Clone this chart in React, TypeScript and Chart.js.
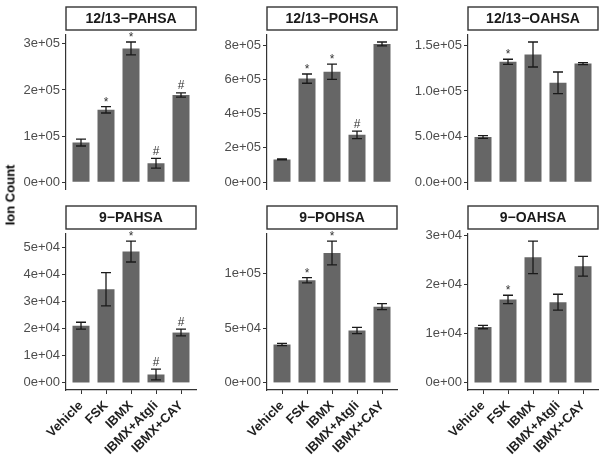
import React, { useEffect, useRef } from "react";
import { Chart, registerables } from "chart.js";

Chart.register(...registerables);

const FONT = "'Liberation Sans', Arial, Helvetica, sans-serif";

const categories = ["Vehicle", "FSK", "IBMX", "IBMX+Atgli", "IBMX+CAY"];
const panelTitles = ["12/13\u2212PAHSA", "12/13\u2212POHSA", "12/13\u2212OAHSA", "9\u2212PAHSA", "9\u2212POHSA", "9\u2212OAHSA"];

const pahsa1213Mean = [86000, 157000, 290000, 41000, 189000];
const pahsa1213Err = [7500, 7000, 14000, 10500, 4500];
const pohsa1213Mean = [133000, 604000, 644000, 276000, 806000];
const pohsa1213Err = [3000, 27000, 44000, 22000, 11500];
const oahsa1213Mean = [49500, 132000, 140000, 109000, 130000];
const oahsa1213Err = [1500, 2800, 13700, 11800, 1000];
const pahsa9Mean = [21100, 34500, 48400, 3100, 18550];
const pahsa9Err = [1250, 6150, 3850, 2000, 1250];
const pohsa9Mean = [35000, 93600, 118500, 47800, 69500];
const pohsa9Err = [1000, 2400, 10800, 2900, 2750];
const oahsa9Mean = [11350, 16950, 25500, 16400, 23700];
const oahsa9Err = [350, 850, 3300, 1600, 2000];

const pahsa1213Marks = ["", "*", "*", "#", "#"];
const pohsa1213Marks = ["", "*", "*", "#", ""];
const oahsa1213Marks = ["", "*", "", "", ""];
const pahsa9Marks = ["", "", "*", "#", "#"];
const pohsa9Marks = ["", "*", "*", "", ""];
const oahsa9Marks = ["", "*", "", "", ""];

const yTickSteps = [100000, 200000, 50000, 10000, 50000, 10000];

const means = [pahsa1213Mean, pohsa1213Mean, oahsa1213Mean, pahsa9Mean, pohsa9Mean, oahsa9Mean];
const errs = [pahsa1213Err, pohsa1213Err, oahsa1213Err, pahsa9Err, pohsa9Err, oahsa9Err];
const marks = [pahsa1213Marks, pohsa1213Marks, oahsa1213Marks, pahsa9Marks, pohsa9Marks, oahsa9Marks];

function fmtSci(value: number, ticks: { value: number }[]) {
  let d = 0;
  for (; d < 4; d++) {
    const ok = ticks.every((t) => Math.abs(Number(t.value.toExponential(d)) - t.value) < 1e-9 * Math.max(1, Math.abs(t.value)));
    if (ok) break;
  }
  return value.toExponential(d).replace(/e([+-])(\d)$/, "e$10$2");
}

const Y_AXIS_W = 60;
const PLOT_W = 130;
const CANVAS_W = Y_AXIS_W + PLOT_W + 2;
const colLefts = [6, 207, 408];

function Panel({ idx }: { idx: number }) {
  const ref = useRef<HTMLCanvasElement | null>(null);
  const bottomRow = idx >= 3;
  const col = idx % 3;
  const top = bottomRow ? 199 : 0;
  const height = bottomRow ? 261 : 199;

  useEffect(() => {
    const mean = means[idx];
    const err = errs[idx];
    const mk = marks[idx];
    const title = panelTitles[idx];
    const step = yTickSteps[idx];
    const hi = Math.max(...mean.map((m, i) => m + err[i]));
    const yMax = 1.05 * hi;

    const errorPlugin = {
      id: "errbars" + idx,
      afterDatasetsDraw(chart: any) {
        const { ctx } = chart;
        const xs = chart.scales.x;
        const ys = chart.scales.y;
        ctx.save();
        ctx.strokeStyle = "#1a1a1a";
        ctx.lineWidth = 1.3;
        mean.forEach((m, i) => {
          const xc = xs.getPixelForValue(i);
          const xl = xs.getPixelForValue(i - 0.2);
          const xr = xs.getPixelForValue(i + 0.2);
          const yt = ys.getPixelForValue(m + err[i]);
          const yb = ys.getPixelForValue(m - err[i]);
          ctx.beginPath();
          ctx.moveTo(xc, yt);
          ctx.lineTo(xc, yb);
          ctx.moveTo(xl, yt);
          ctx.lineTo(xr, yt);
          ctx.moveTo(xl, yb);
          ctx.lineTo(xr, yb);
          ctx.stroke();
          if (mk[i]) {
            ctx.fillStyle = "#333333";
            ctx.font = `12px ${FONT}`;
            ctx.textAlign = "center";
            ctx.textBaseline = "alphabetic";
            ctx.fillText(mk[i], xc, yt - (mk[i] === "*" ? 1 : 3.5));
          }
        });
        ctx.restore();
      },
    };

    const stripPlugin = {
      id: "strip" + idx,
      afterDraw(chart: any) {
        const { ctx, chartArea } = chart;
        const x0 = chartArea.left;
        const w = chartArea.right - chartArea.left;
        const y0 = chartArea.top - 28;
        const h = 23;
        ctx.save();
        ctx.fillStyle = "#ffffff";
        ctx.fillRect(x0, y0, w, h);
        ctx.strokeStyle = "#333333";
        ctx.lineWidth = 1.4;
        ctx.strokeRect(x0, y0, w, h);
        ctx.fillStyle = "#1a1a1a";
        ctx.font = `bold 14px ${FONT}`;
        ctx.textAlign = "center";
        ctx.textBaseline = "middle";
        ctx.fillText(title, x0 + w / 2, y0 + h / 2 + 1);
        ctx.restore();
      },
    };

    const chart = new Chart(ref.current as HTMLCanvasElement, {
      type: "bar",
      data: {
        datasets: [
          {
            data: mean.map((m, i) => ({ x: i, y: m })),
            backgroundColor: "#666666",
            borderWidth: 0,
            barPercentage: 0.68,
            categoryPercentage: 1,
          } as any,
        ],
      },
      options: {
        responsive: false,
        animation: false,
        layout: { padding: { top: 35, right: 2, left: 0, bottom: bottomRow ? 0 : 8.5 } },
        plugins: { legend: { display: false }, tooltip: { enabled: false } },
        scales: {
          x: {
            type: "linear",
            min: -0.6,
            max: 4.6,
            offset: false,
            display: bottomRow,
            afterBuildTicks: (s: any) => {
              s.ticks = categories.map((_, i) => ({ value: i }));
            },
            afterFit: (s: any) => {
              if (bottomRow) s.height = 70;
            },
            grid: { display: true, offset: false, drawOnChartArea: false, drawTicks: true, tickLength: 4, color: "#333333", lineWidth: 1 },
            border: { display: true, color: "#333333", width: 1.2 },
            ticks: {
              autoSkip: false,
              minRotation: 45,
              maxRotation: 45,
              padding: 4,
              color: "#1f1f1f",
              font: { family: FONT, size: 13, weight: "bold" },
              callback: (v: any) => categories[Math.round(Number(v))] ?? "",
            },
          },
          y: {
            type: "linear",
            min: -0.05 * hi,
            max: yMax,
            afterBuildTicks: (s: any) => {
              const t: { value: number }[] = [];
              for (let v = 0; v <= yMax + 1e-6; v += step) t.push({ value: v });
              s.ticks = t;
            },
            afterFit: (s: any) => {
              s.width = Y_AXIS_W;
            },
            grid: { display: true, drawOnChartArea: false, drawTicks: true, tickLength: 4, color: "#333333", lineWidth: 1 },
            border: { display: true, color: "#333333", width: 1.2 },
            ticks: {
              padding: 2,
              color: "#4d4d4d",
              font: { family: FONT, size: 13 },
              callback: (v: any, _i: number, ticks: any[]) => fmtSci(Number(v), ticks),
            },
          },
        },
      } as any,
      plugins: [errorPlugin, stripPlugin],
    });
    return () => chart.destroy();
  }, [idx]);

  return (
    <canvas
      ref={ref}
      width={CANVAS_W}
      height={height}
      style={{ position: "absolute", left: colLefts[col], top, width: CANVAS_W, height }}
    />
  );
}

export default function App() {
  return (
    <div style={{ position: "absolute", left: 0, top: 0, width: 600, height: 460, background: "#ffffff", overflow: "hidden" }}>
      {[0, 1, 2, 3, 4, 5].map((i) => (
        <Panel key={i} idx={i} />
      ))}
      <div
        style={{
          position: "absolute",
          left: 10,
          top: 195,
          transform: "translate(-50%, -50%) rotate(-90deg)",
          fontFamily: FONT,
          fontWeight: "bold",
          fontSize: 13,
          color: "#000000",
          whiteSpace: "nowrap",
        }}
      >
        Ion Count
      </div>
    </div>
  );
}
